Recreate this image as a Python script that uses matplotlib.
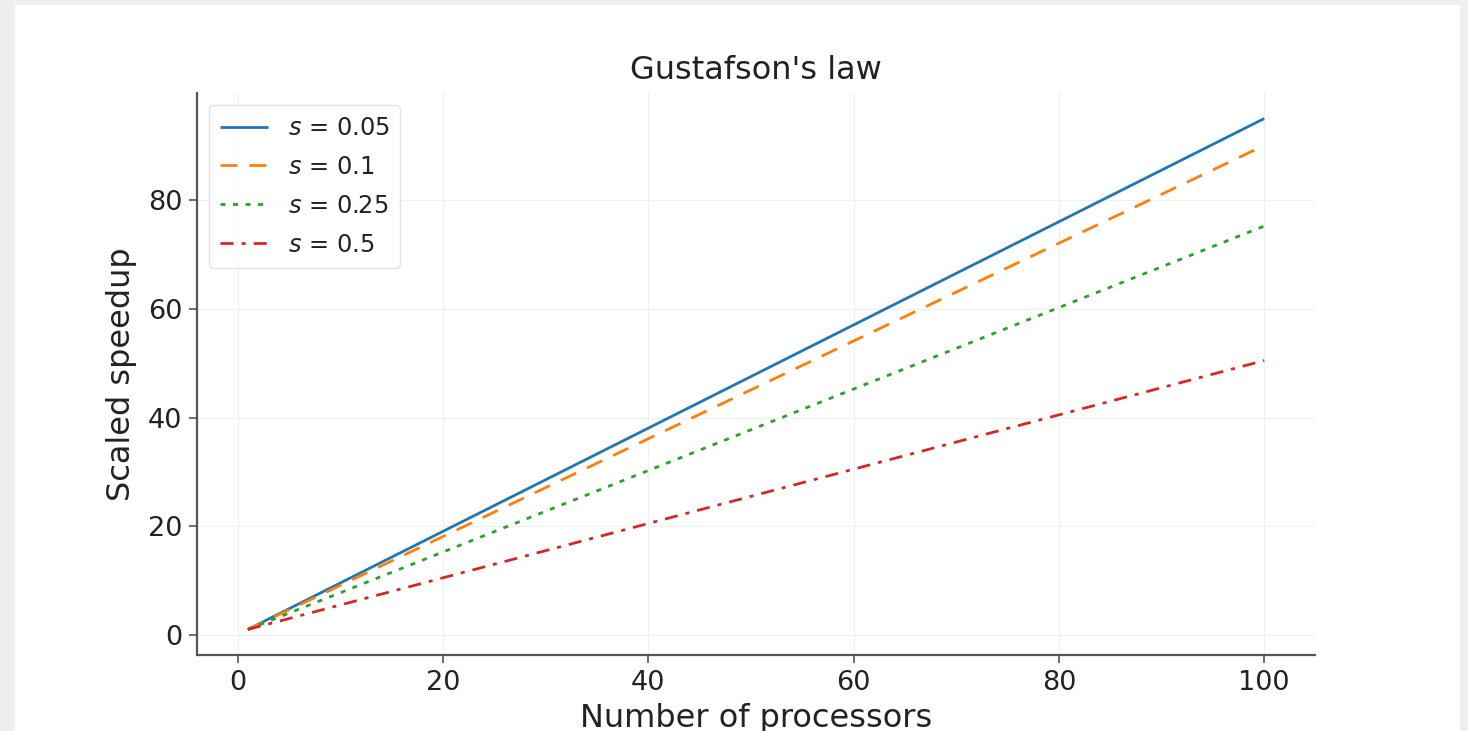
import matplotlib
matplotlib.use("Agg")
import matplotlib.pyplot as plt
from matplotlib.patches import Rectangle

# Data: endpoints of each straight line
processors = [1, 100]
speedup_s005 = [1.0, 95.05]
speedup_s01 = [1.0, 90.1]
speedup_s025 = [1.0, 75.25]
speedup_s05 = [1.0, 50.5]
labels = ["$s$ = 0.05", "$s$ = 0.1", "$s$ = 0.25", "$s$ = 0.5"]
series = [speedup_s005, speedup_s01, speedup_s025, speedup_s05]
styles = [(0, ()), (0, (6.1, 4.3)), (0, (1.8, 2.7)), (0, (4.7, 2.9, 1.45, 2.9))]
colors = ["#1f77b4", "#ff7f0e", "#2ca02c", "#d62728"]

W, H = 1468, 731
fig = plt.figure(figsize=(W / 100, H / 100), dpi=100, facecolor="#efefef")
fig.patches.append(Rectangle((15 / W, 0), (1460 - 15) / W, (H - 5) / H,
                             transform=fig.transFigure, facecolor="white",
                             edgecolor="none", zorder=-10))

ax = fig.add_axes([197 / W, (H - 655) / H, (1315 - 197) / W, (655 - 93) / H])
ax.set_zorder(5)
ax.set_facecolor("none")
for y, lab, ls, c in zip(series, labels, styles, colors):
    ax.plot(processors, y, linestyle=ls, color=c, linewidth=2.0, label=lab,
            dash_capstyle="butt")

ax.set_xticks([0, 20, 40, 60, 80, 100])
ax.set_yticks([0, 20, 40, 60, 80])
ax.grid(True, color="#e6e6e6", linewidth=0.8, alpha=0.6)
ax.spines["top"].set_visible(False)
ax.spines["right"].set_visible(False)
for s in ["left", "bottom"]:
    ax.spines[s].set_color("#555555")
    ax.spines[s].set_linewidth(1.6)
ax.tick_params(axis="both", labelsize=19.5, colors="#555555", labelcolor="#222222",
               length=6, width=1.2, pad=4.5)
ax.set_title("Gustafson's law", fontsize=23, color="#222222", pad=10)
ax.set_xlabel("Number of processors", fontsize=23, color="#222222", labelpad=5)
ax.set_ylabel("Scaled speedup", fontsize=23, color="#222222", labelpad=8)
leg = ax.legend(loc="upper left", fontsize=17.4, frameon=True, handlelength=2.0,
                borderpad=0.45, labelspacing=0.62, bbox_to_anchor=(0.0, 1.0))
leg.get_frame().set_edgecolor("#dddddd")
for t in leg.get_texts():
    t.set_color("#222222")

fig.savefig("out.png", dpi=100, facecolor=fig.get_facecolor())
